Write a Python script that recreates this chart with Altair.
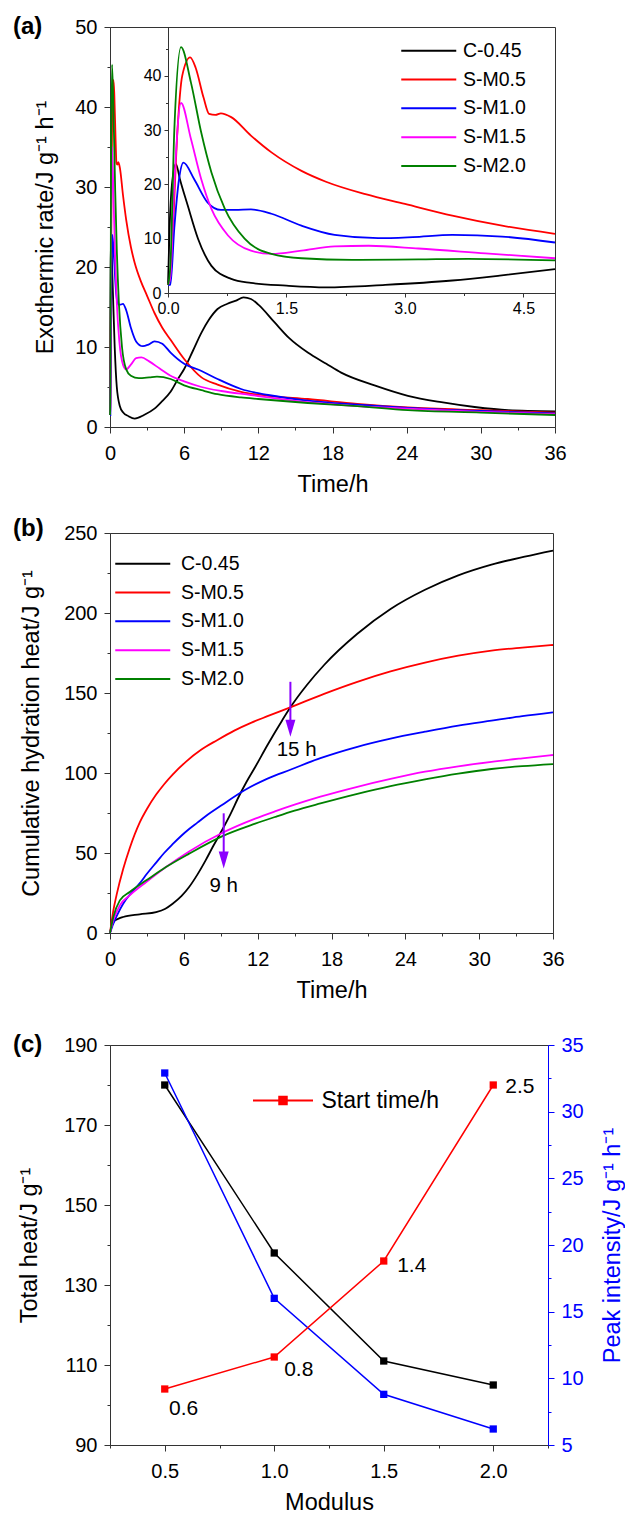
import json
import altair as alt
import pandas as pd

FONT = "Liberation Sans"
SERIES = ["C-0.45", "S-M0.5", "S-M1.0", "S-M1.5", "S-M2.0"]
COLORS = ["#000000", "#ff0000", "#0000ff", "#ff00ff", "#008000"]
ARROW_COLOR = "#8b00ff"

# ---------------- (a) exothermic rate (J g-1 h-1) vs time (h) ----------------
rate_time_c045 = [0, 0.02, 0.05, 0.1, 0.15, 0.25, 0.38, 0.55, 0.8, 1.05, 1.5, 2.0, 2.75, 3.6, 4.2, 4.9,
                  5.5, 6.0, 6.7, 7.4, 8.0, 8.7, 9.5, 10.2, 10.8, 11.4, 12.0, 13.3, 14.5, 16.0, 17.5,
                  18.7, 21.4, 24.1, 26.8, 29.5, 32.2, 36]
rate_c045 = [1.5, 12, 20, 23.8, 21, 16.1, 10.0, 5.0, 2.6, 1.85, 1.35, 1.05, 1.5, 2.3, 3.2, 4.4,
             6.0, 7.25, 9.5, 11.8, 13.4, 14.75, 15.4, 15.8, 16.2, 16.0, 15.3, 13.1, 11.1, 9.3, 7.9,
             6.8, 5.2, 3.9, 3.1, 2.5, 2.1, 1.95]

rate_time_m05 = [0, 0.03, 0.06, 0.12, 0.18, 0.28, 0.35, 0.45, 0.52, 0.6, 0.67, 0.8, 1.05, 1.31, 1.69,
                 2.0, 2.5, 3.0, 3.6, 4.23, 4.9, 6.0, 7.4, 8.7, 10.6, 12.8, 16.0, 20.0, 24.1, 30.0, 36]
rate_m05 = [1.5, 3, 11, 30, 40, 43.4, 41.5, 36, 33.0, 32.8, 33.1, 32.4, 29.0, 25.9, 22.5,
            20.5, 18.2, 16.4, 14.25, 12.4, 10.9, 8.5, 6.2, 5.3, 4.4, 3.9, 3.5, 2.9, 2.45, 2.1, 1.8]

rate_time_m10 = [0, 0.03, 0.08, 0.14, 0.195, 0.33, 0.5, 0.67, 0.85, 1.05, 1.31, 1.69, 2.11, 2.66,
                 3.1, 3.6, 4.23, 4.9, 6.0, 7.4, 8.7, 10.6, 12.8, 16.0, 20.0, 24.1, 30.0, 36]
rate_m10 = [1.5, 1.5, 12, 21, 24.0, 21.0, 16.7, 15.3, 15.3, 15.4, 14.6, 12.4, 10.7, 10.1,
            10.3, 10.7, 10.4, 9.3, 7.9, 7.0, 6.0, 4.75, 4.0, 3.3, 2.8, 2.4, 2.0, 1.7]

rate_time_m15 = [0, 0.03, 0.08, 0.165, 0.29, 0.42, 0.55, 0.76, 1.05, 1.31, 1.69, 2.11, 2.54, 3.17,
                 4.02, 4.9, 6.0, 7.4, 9.0, 11.4, 12.8, 16.0, 20.0, 24.1, 30.0, 36]
rate_m15 = [1.5, 3, 20, 35.0, 28.4, 21.0, 15.5, 10.6, 7.8, 7.2, 7.8, 8.6, 8.7, 8.2,
            7.3, 6.4, 5.7, 5.0, 4.5, 4.0, 3.7, 3.1, 2.6, 2.3, 1.9, 1.6]

rate_time_m20 = [0, 0.03, 0.08, 0.165, 0.29, 0.42, 0.55, 0.72, 0.97, 1.31, 1.69, 2.33, 3.17, 3.8,
                 4.9, 6.0, 7.4, 8.7, 10.6, 12.0, 16.0, 20.0, 24.1, 30.0, 36]
rate_m20 = [1.5, 5, 30, 45.3, 38.8, 29.6, 22.2, 15.5, 10.0, 7.2, 6.4, 6.1, 6.2, 6.3,
            6.0, 5.2, 4.6, 4.1, 3.7, 3.5, 3.0, 2.6, 2.1, 1.8, 1.5]

# ---------------- (b) cumulative hydration heat (J g-1) vs time (h) ----------------
cum_time_c045 = [0, 0.15, 0.35, 0.7, 1.07, 2.41, 3.75, 4.5, 5.09, 5.8, 6.43, 7.1, 7.77, 8.4, 9.1,
                 9.8, 10.45, 11.1, 11.8, 12.8, 14.0, 14.7, 16.0, 17.4, 20.1, 22.8, 25.6, 28.3, 31.0,
                 33.7, 36]
cum_c045 = [0, 4.5, 7.5, 9.0, 10, 11.7, 13.1, 15.2, 18.3, 23, 28.75, 36.5, 45.4, 54.5, 64.2,
            74.5, 85, 94.5, 103.75, 117.5, 133, 141.5, 155, 167.5, 187, 202.5, 214.5, 223.5, 230.2,
            235.2, 239]

cum_time_m05 = [0, 0.27, 0.54, 1.07, 1.6, 2.41, 3.0, 3.75, 4.4, 5.09, 6.16, 7.4, 8.7, 10.1, 11.5,
                12.8, 14.7, 17.4, 20.1, 22.8, 25.6, 28.3, 31.0, 33.5, 36]
cum_m05 = [0, 14, 24, 40, 53, 69, 77.5, 86.5, 93, 99, 107, 114.5, 120.5, 126.5, 131.5,
           135.5, 141.2, 149.5, 157, 163.5, 169, 173.3, 176.5, 178.4, 180]

cum_time_m10 = [0, 0.27, 0.6, 1.07, 1.7, 2.41, 3.0, 3.75, 4.4, 5.09, 5.8, 6.43, 7.1, 7.77, 9.1,
                11.0, 12.8, 14.7, 17.1, 20.1, 22.8, 25.6, 28.3, 31, 33.5, 36]
cum_m10 = [0, 5.8, 11.5, 18.3, 24.8, 31, 37, 44, 50, 55.5, 60.8, 65, 69, 73, 80,
           89.5, 96.5, 102.2, 109.3, 116.4, 121.5, 125.8, 129.6, 132.7, 135.5, 137.9]

cum_time_m15 = [0, 0.27, 0.8, 1.6, 2.95, 4.55, 6.43, 9.1, 11.8, 13.4, 15.0, 17.1, 20.1, 22.8,
                25.6, 28.3, 31, 33.5, 36]
cum_m15 = [0, 7.9, 17.3, 23.5, 31.9, 41.25, 51, 62.5, 71.5, 76, 80.2, 85.2, 91.4, 96.3,
           100.8, 104.2, 107, 109.2, 111.25]

cum_time_m20 = [0, 0.27, 0.8, 1.6, 2.95, 4.55, 6.43, 9.1, 11.8, 13.4, 15.0, 17.1, 20.1, 22.8,
                25.6, 28.3, 31, 33.5, 36]
cum_m20 = [0, 10, 20.4, 25.6, 32.9, 41.25, 49.6, 60.4, 68.3, 72.5, 76.5, 81, 87, 91.8,
           96, 99.6, 102.5, 104.3, 105.6]

# crossing-point arrows in (b)
arrow_time = [14.66, 9.24]
arrow_top = [157, 74.8]
arrow_head = [127.9, 45.6]
arrow_text = ["15 h", "9 h"]
arrow_text_time = [15.17, 9.24]
arrow_text_heat = [114.4, 29.4]

# ---------------- (c) vs modulus ----------------
modulus = [0.5, 1.0, 1.5, 2.0]
total_heat = [180, 138, 111, 105]
peak_intensity = [32.9, 16.0, 8.8, 6.2]
start_time = [0.6, 0.8, 1.4, 2.5]
start_labels = ["0.6", "0.8", "1.4", "2.5"]


def long_df(pairs):
    rows = []
    for name, ts, vs in pairs:
        for t, v in zip(ts, vs):
            rows.append({"series": name, "t": t, "v": v})
    return pd.DataFrame(rows)


rate_df = long_df([
    ("C-0.45", rate_time_c045, rate_c045),
    ("S-M0.5", rate_time_m05, rate_m05),
    ("S-M1.0", rate_time_m10, rate_m10),
    ("S-M1.5", rate_time_m15, rate_m15),
    ("S-M2.0", rate_time_m20, rate_m20),
])
cum_df = long_df([
    ("C-0.45", cum_time_c045, cum_c045),
    ("S-M0.5", cum_time_m05, cum_m05),
    ("S-M1.0", cum_time_m10, cum_m10),
    ("S-M1.5", cum_time_m15, cum_m15),
    ("S-M2.0", cum_time_m20, cum_m20),
])


def axis(values, majors, major_len=6, minor_len=3, fmt=None, color="#333333",
         label_color="black", **kw):
    test = f"indexof({json.dumps(majors)}, datum.value) >= 0"
    args = dict(
        values=values,
        labelExpr=f"{test} ? datum.label : ''",
        tickSize={"condition": {"test": test, "value": major_len}, "value": minor_len},
        grid=False, labelOverlap=False, labelFlush=False,
        domainColor=color, tickColor=color, labelColor=label_color,
    )
    if fmt:
        args["format"] = fmt
    args.update(kw)
    return alt.Axis(**args)


color_scale = alt.Scale(domain=SERIES, range=COLORS)
LINE_SYM = "M-5.5,0H5.5"


def series_legend(x, y, label_offset):
    return alt.Legend(title=None, orient="none", legendX=x, legendY=y, symbolType=LINE_SYM,
                      symbolSize=100, symbolStrokeWidth=2, labelFont=FONT, labelFontSize=19.5,
                      labelColor="black", labelOffset=label_offset, rowPadding=7.8, padding=0)


def panel_label(text, x_px, y_px):
    return alt.Chart(pd.DataFrame({"label": [text]})).mark_text(
        font=FONT, fontSize=24, fontWeight="bold", align="left", baseline="middle", color="black"
    ).encode(x=alt.value(x_px), y=alt.value(y_px), text="label:N")


time_axis = axis(list(range(0, 37, 3)), list(range(0, 37, 6)), orient="bottom",
                 labelPadding=10, titlePadding=9)

# ---------------- panel (a) ----------------
legend_a = series_legend(309, 14, 24.5)
main_a = alt.Chart(rate_df).mark_line(strokeWidth=1.8, interpolate="monotone").encode(
    x=alt.X("t:Q", scale=alt.Scale(domain=[0, 36], nice=False, zero=False), axis=time_axis,
            title="Time/h"),
    y=alt.Y("v:Q", scale=alt.Scale(domain=[0, 50], nice=False),
            axis=axis(list(range(0, 51, 5)), list(range(0, 51, 10)), orient="left",
                      labelPadding=7, titlePadding=17),
            title="Exothermic rate/J g⁻¹ h⁻¹"),
    color=alt.Color("series:N", scale=color_scale, legend=legend_a),
)
inset_a = alt.Chart(rate_df).transform_filter("datum.t <= 4.9").mark_line(
    strokeWidth=1.8, interpolate="monotone").encode(
    x=alt.X("t:Q", scale=alt.Scale(domain=[0, 4.9], range=[58, 445], nice=False, zero=False),
            axis=axis([0, 0.75, 1.5, 2.25, 3.0, 3.75, 4.5], [0, 1.5, 3.0, 4.5], major_len=4,
                      minor_len=2.5, fmt=".1f", orient="bottom", offset=-134, labelFontSize=16,
                      labelPadding=3),
            title=None),
    y=alt.Y("v:Q", scale=alt.Scale(domain=[0, 49], range=[266, 0], nice=False),
            axis=axis(list(range(0, 46, 5)), [0, 10, 20, 30, 40], major_len=4, minor_len=2.5,
                      orient="left", offset=-58, labelFontSize=16, labelPadding=3),
            title=None),
    color=alt.Color("series:N", scale=color_scale, legend=legend_a),
)
panel_a = alt.layer(main_a, inset_a, panel_label("(a)", -97, 0)).resolve_scale(
    x="independent", y="independent").properties(width=445, height=400)

# ---------------- panel (b) ----------------
x_b_scale = alt.Scale(domain=[0, 36], nice=False, zero=False)
y_b_scale = alt.Scale(domain=[0, 250], nice=False)
y_b_axis = axis(list(range(0, 251, 25)), list(range(0, 251, 50)), orient="left",
                labelPadding=7, titlePadding=20)
Y_B_TITLE = "Cumulative hydration heat/J g⁻¹"


def xb(field):
    return alt.X(field, scale=x_b_scale, axis=time_axis, title="Time/h")


def yb(field):
    return alt.Y(field, scale=y_b_scale, axis=y_b_axis, title=Y_B_TITLE)


legend_b = series_legend(23, 21, 28.5)
lines_b = alt.Chart(cum_df).mark_line(strokeWidth=1.8, interpolate="monotone").encode(
    x=xb("t:Q"), y=yb("v:Q"),
    color=alt.Color("series:N", scale=color_scale, legend=legend_b),
)
arrow_df = pd.DataFrame({"t": arrow_time, "top": arrow_top, "head": arrow_head})
rule_b = alt.Chart(arrow_df).mark_rule(color=ARROW_COLOR, strokeWidth=2).encode(
    x=xb("t:Q"), y=yb("top:Q"), y2="head:Q",
)
head_b = alt.Chart(arrow_df).mark_point(
    shape="M-0.5,-0.85L0.5,-0.85L0,0.85Z", size=400, filled=True, color=ARROW_COLOR, opacity=1
).encode(x=xb("t:Q"), y=yb("head:Q"))
arrow_text_df = pd.DataFrame({"t": arrow_text_time, "v": arrow_text_heat, "label": arrow_text})
text_b = alt.Chart(arrow_text_df).mark_text(font=FONT, fontSize=20.5, color="black",
                                           baseline="middle").encode(
    x=xb("t:Q"), y=yb("v:Q"), text="label:N",
)
panel_b = alt.layer(lines_b, rule_b, head_b, text_b, panel_label("(b)", -97, -4.5)).properties(
    width=443, height=400)

# ---------------- panel (c) ----------------
c_df = pd.DataFrame({"modulus": modulus, "total": total_heat, "peak": peak_intensity,
                     "start": start_time, "label": start_labels})
c_df["legend"] = "Start time/h"
x_c = alt.X("modulus:Q", scale=alt.Scale(domain=[0.25, 2.25], nice=False, zero=False),
            axis=axis([0.25, 0.5, 0.75, 1.0, 1.25, 1.5, 1.75, 2.0, 2.25], [0.5, 1.0, 1.5, 2.0],
                      fmt=".1f", orient="bottom", labelPadding=10, titlePadding=9),
            title="Modulus")
start_scale = alt.Scale(domain=[0.25, 2.75], nice=False, zero=False)
sq = dict(shape="square", size=53, filled=True, opacity=1)

black_c = alt.Chart(c_df).mark_line(color="black", strokeWidth=1.5,
                                    point=alt.OverlayMarkDef(color="black", **sq)).encode(
    x=x_c,
    y=alt.Y("total:Q", scale=alt.Scale(domain=[90, 190], nice=False, zero=False),
            axis=axis(list(range(90, 191, 10)), [90, 110, 130, 150, 170, 190], orient="left",
                      labelPadding=7, titlePadding=22),
            title="Total heat/J g⁻¹"),
)
blue_c = alt.Chart(c_df).mark_line(color="#0000ff", strokeWidth=1.5,
                                   point=alt.OverlayMarkDef(color="#0000ff", **sq)).encode(
    x=x_c,
    y=alt.Y("peak:Q", scale=alt.Scale(domain=[5, 35], nice=False, zero=False),
            axis=axis([5 + 2.5 * i for i in range(13)], [5, 10, 15, 20, 25, 30, 35],
                      orient="right", color="#0000ff", label_color="#0000ff",
                      titleColor="#0000ff", labelPadding=7, titlePadding=17,
                      titleAngle=270, titleBaseline="top"),
            title="Peak intensity/J g⁻¹ h⁻¹"),
)
legend_c = alt.Legend(title=None, orient="none", legendX=161.5, legendY=44,
                      symbolType="M-6,0H6M-0.75,-0.75H0.75V0.75H-0.75Z", symbolSize=100,
                      symbolStrokeWidth=2, labelFont=FONT, labelFontSize=23, labelColor="black",
                      labelOffset=27, padding=0)
red_c = alt.Chart(c_df).mark_line(strokeWidth=1.5, point=alt.OverlayMarkDef(**sq)).encode(
    x=x_c,
    y=alt.Y("start:Q", scale=start_scale, axis=None),
    color=alt.Color("legend:N", scale=alt.Scale(range=["#ff0000"]), legend=legend_c),
)
label_offsets = [(18.8, 20), (24.5, 12.5), (28, 4.5), (26.7, 1.5)]
text_layers = []
for i, (ddx, ddy) in enumerate(label_offsets):
    text_layers.append(
        alt.Chart(c_df.iloc[[i]]).mark_text(font=FONT, fontSize=21, color="black",
                                            baseline="middle", dx=ddx, dy=ddy).encode(
            x=x_c,
            y=alt.Y("start:Q", scale=start_scale, axis=None),
            text="label:N",
        )
    )
panel_c = alt.layer(black_c, blue_c, red_c, *text_layers, panel_label("(c)", -97, 0)).resolve_scale(
    y="independent").properties(width=438, height=400)

chart = alt.vconcat(
    panel_a,
    alt.vconcat(panel_b, panel_c, spacing=30).resolve_scale(color="independent"),
    spacing=20,
).resolve_scale(color="independent").properties(
    padding={"left": 12, "top": 14, "right": 0, "bottom": 0}
).configure(font=FONT).configure_view(
    stroke="#333333", strokeWidth=1
).configure_axis(
    labelFont=FONT, titleFont=FONT, labelFontSize=20, titleFontSize=23.5,
    titleFontWeight="normal", titleColor="black", domainWidth=1, tickWidth=1,
).configure_legend(labelFont=FONT)

chart.save("out.html", embed_options={"renderer": "svg", "actions": False})
